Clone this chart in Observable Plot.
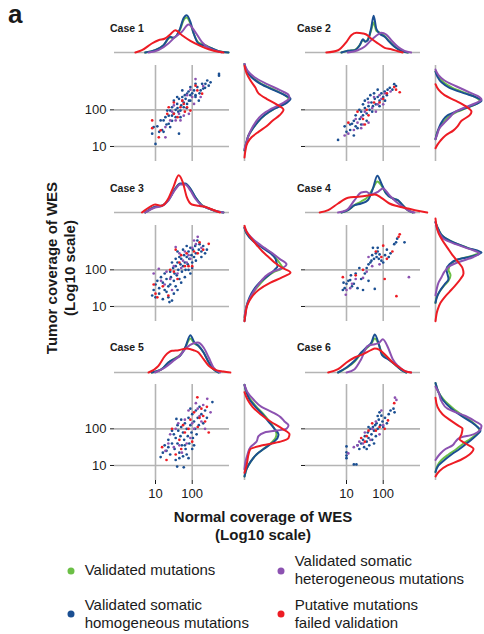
<!DOCTYPE html>
<html><head><meta charset="utf-8">
<script src="https://cdn.jsdelivr.net/npm/d3@7"></script>
<script src="https://cdn.jsdelivr.net/npm/@observablehq/plot@0.6"></script>
<style>
body{margin:0;background:#fff;}
#fig{position:relative;width:484px;height:634px;overflow:hidden;font-family:"Liberation Sans",Arial,Helvetica,sans-serif;color:#1a1a1a;background:#fff;}
#fig svg{overflow:visible;position:absolute;}
.lbl{position:absolute;white-space:nowrap;}
</style></head><body><div id="fig"></div>
<script>
// ---------- DATA (all coverage values are log10 of coverage) ----------
const caseLabels = ["Case 1","Case 2","Case 3","Case 4","Case 5","Case 6"];
const tickValues = [10, 100];
const seriesNames = [["Validated mutations"],["Validated somatic","heterogeneous mutations"],["Validated somatic","homogeneous mutations"],["Putative mutations","failed validation"]];
const seriesColors = ["#6bbf46","#8c52b1","#1b4f92","#ed1c24"]; // green, purple, blue, red

// scatter points [log10 normal, log10 tumor]
const case1Blue=[[1.0,1.07],[0.91,1.35],[0.95,1.53],[1.05,1.55],[1.18,1.45],[1.22,1.71],[1.27,1.8],[1.36,1.84],[1.4,1.98],[1.45,2.07],[1.5,2.25],[1.59,2.16],[1.64,2.3],[1.68,1.98],[1.73,2.35],[1.77,2.2],[1.82,2.3],[1.86,2.44],[1.91,2.25],[1.95,2.4],[2.05,2.53],[2.09,2.35],[2.14,2.62],[2.23,2.53],[2.3,2.58],[2.36,2.71],[2.41,2.8],[2.45,2.66],[2.5,2.75],[2.73,2.98],[2.73,2.93],[1.64,1.35],[1.55,1.8],[1.36,1.62],[1.68,1.8],[1.77,2.07],[1.86,2.16],[1.55,2.0],[1.45,1.84],[1.95,2.25],[2.09,2.4],[1.32,1.98],[1.14,1.71],[1.59,2.35],[1.73,2.53],[1.95,2.62],[2.09,2.71],[2.27,2.71],[2.18,2.25],[1.4,1.53],[1.22,1.4],[1.1,1.4],[1.5,1.9],[1.6,2.05],[1.7,2.12],[1.8,2.4],[1.9,2.5],[2.0,2.45],[1.3,1.6],[2.35,2.6],[2.2,2.45],[1.85,2.05],[1.62,1.95],[1.45,1.7]];
const case1Purple=[[1.27,1.25],[1.4,1.71],[1.55,1.71],[1.64,1.89],[1.77,1.84],[1.86,2.4],[2.0,2.35],[2.09,2.84],[2.23,2.35],[1.91,1.89],[1.5,2.12],[1.73,2.25],[2.05,2.16],[1.27,1.53],[1.68,1.71],[1.95,2.55],[2.3,2.65],[1.45,1.95]];
const case1Red=[[0.91,1.71],[0.91,1.5],[1.09,1.25],[1.14,1.44],[1.32,1.89],[1.5,1.89],[1.68,2.07],[1.77,2.16],[1.86,2.07],[1.95,1.98],[2.14,2.53],[2.09,2.66],[1.6,1.8],[1.36,2.07],[1.73,2.25],[2.27,2.44],[1.5,2.2],[1.8,1.95]];

const case2Blue=[[0.77,1.18],[0.95,1.55],[1.0,1.4],[1.1,1.45],[1.15,1.62],[1.2,1.7],[1.25,1.85],[1.3,1.5],[1.36,1.75],[1.4,1.95],[1.45,1.85],[1.5,2.05],[1.55,1.9],[1.6,2.1],[1.63,2.0],[1.68,2.2],[1.72,2.1],[1.77,2.3],[1.8,2.15],[1.85,2.35],[1.9,2.25],[1.95,2.45],[2.0,2.35],[2.04,2.5],[2.1,2.4],[2.18,2.6],[2.25,2.55],[2.3,2.7],[2.35,2.65],[1.5,2.25],[1.65,2.4],[1.4,1.6],[1.25,1.55],[1.55,1.7],[1.7,1.95],[1.9,2.1],[2.05,2.25],[1.58,2.3],[1.85,2.55],[1.35,2.0],[1.2,1.3],[1.1,1.6],[1.45,2.15],[1.75,2.45],[2.12,2.55]];
const case2Purple=[[0.95,1.3],[1.05,1.35],[1.2,1.45],[1.3,1.65],[1.4,1.8],[1.45,1.6],[1.5,1.95],[1.6,1.65],[1.7,2.05],[1.8,1.95],[1.85,2.15],[1.95,2.3],[2.05,2.45],[2.2,2.5],[1.75,2.35],[1.6,2.2],[1.25,1.75],[1.4,1.5],[1.9,2.4],[2.0,2.15]];
const case2Red=[[1.05,1.65],[1.3,1.95],[1.45,1.75],[1.55,2.0],[1.6,1.85],[1.75,2.2],[1.9,2.2],[2.0,2.3],[2.35,2.55],[2.45,2.48],[2.3,2.62],[1.5,1.6],[2.1,2.45]];

const case3Blue=[[0.91,1.3],[0.95,1.45],[1.0,1.6],[1.05,1.7],[1.1,1.5],[1.15,1.8],[1.2,1.65],[1.25,1.9],[1.3,1.75],[1.35,1.55],[1.4,1.95],[1.42,1.8],[1.45,1.16],[1.48,2.05],[1.5,1.7],[1.52,1.9],[1.55,2.1],[1.58,1.85],[1.6,2.2],[1.62,2.0],[1.65,1.75],[1.68,2.15],[1.7,2.3],[1.72,1.95],[1.75,2.1],[1.78,2.4],[1.8,2.2],[1.82,2.0],[1.85,2.35],[1.88,2.15],[1.9,2.5],[1.92,2.3],[1.95,2.6],[1.98,2.4],[2.0,2.2],[2.02,2.55],[2.05,2.35],[2.08,2.65],[2.1,2.45],[2.14,2.8],[2.18,2.55],[2.2,2.7],[2.25,2.5],[2.3,2.65],[2.35,2.45],[1.3,1.4],[1.4,1.6],[1.55,1.55],[1.6,1.45],[1.5,1.35],[1.35,1.25],[1.25,1.45],[1.7,1.65],[1.8,1.8],[1.9,2.0],[2.0,2.05],[1.65,2.35],[1.55,2.3],[1.45,2.2],[1.6,2.5],[1.75,2.55],[1.85,2.65],[2.1,2.25],[2.25,2.35],[1.95,1.9],[1.1,1.35],[1.2,1.2],[1.38,1.12],[2.4,2.55],[1.0,1.25]];
const case3Purple=[[1.09,2.03],[0.95,1.9],[1.15,1.7],[1.25,1.6],[1.3,1.95],[1.4,1.75],[1.5,2.1],[1.55,2.62],[1.6,1.9],[1.7,2.05],[1.75,2.25],[1.85,2.2],[1.9,2.4],[2.0,2.6],[2.1,2.7],[2.15,2.9],[2.25,2.6],[1.95,2.3],[1.65,2.45],[1.45,1.45],[1.8,2.5],[2.05,2.8]];
const case3Red=[[0.95,1.6],[1.0,1.35],[1.05,1.25],[1.2,1.55],[1.35,1.3],[1.5,1.95],[1.55,2.55],[1.65,2.2],[1.8,2.1],[1.9,2.1],[2.0,2.1],[1.7,2.4],[2.05,2.5],[2.2,2.75],[2.45,2.71],[2.3,2.55],[1.85,2.45],[1.6,1.75],[1.4,2.0],[2.15,2.45]];

const case4Blue=[[0.92,1.65],[0.95,1.5],[1.0,1.62],[1.05,1.7],[1.1,1.72],[1.15,1.55],[1.2,1.62],[1.25,1.9],[1.3,1.5],[1.35,2.05],[1.45,1.45],[1.5,1.9],[1.55,2.05],[1.6,2.15],[1.65,2.2],[1.7,2.4],[1.75,2.3],[1.77,1.48],[1.8,2.45],[1.82,2.35],[1.85,2.5],[1.88,2.3],[1.9,2.42],[1.95,2.25],[2.0,2.2],[2.05,2.4],[2.1,2.55],[2.2,2.45],[2.3,2.7],[2.35,2.75],[2.38,2.85],[2.58,2.75],[1.72,2.6],[1.6,1.7],[1.4,1.75],[1.85,2.6],[2.15,2.35],[1.68,2.25],[0.9,1.45],[1.12,1.85]];
const case4Purple=[[0.98,1.32],[1.0,1.45],[1.1,1.5],[1.25,1.75],[1.45,1.78],[1.55,1.95],[1.7,2.1],[1.9,2.15],[2.7,1.8],[1.6,2.35],[1.15,1.62]];
const case4Red=[[0.9,1.8],[1.25,1.85],[1.45,2.0],[1.8,2.5],[2.0,2.66],[2.04,1.75],[2.1,2.3],[2.25,2.5],[2.36,1.28],[2.45,2.97],[2.42,2.9],[1.95,2.35]];

const case5Blue=[[1.14,1.23],[1.2,1.35],[1.25,1.55],[1.3,1.4],[1.35,1.7],[1.4,1.3],[1.45,1.6],[1.5,1.85],[1.52,1.45],[1.55,1.75],[1.57,2.27],[1.59,0.97],[1.6,1.6],[1.62,1.95],[1.65,1.35],[1.68,1.8],[1.7,2.05],[1.72,1.55],[1.75,1.9],[1.77,0.95],[1.78,1.7],[1.8,2.15],[1.82,1.45],[1.85,2.0],[1.88,1.8],[1.9,2.3],[1.92,1.6],[1.95,2.1],[1.98,1.9],[2.0,2.4],[2.02,1.75],[2.05,2.2],[2.08,2.0],[2.1,2.5],[2.12,1.85],[2.15,2.3],[2.2,2.6],[2.25,2.4],[2.3,2.15],[2.35,2.5],[2.4,2.3],[2.55,2.73],[1.65,1.2],[1.75,1.25],[1.85,1.3],[1.55,1.15],[1.7,2.25],[1.95,2.55],[2.05,1.55],[1.45,1.95],[1.9,1.2],[2.0,1.45],[1.6,2.1],[2.18,2.1],[1.35,1.5],[1.8,1.55]];
const case5Purple=[[1.27,1.4],[1.35,1.6],[1.4,1.85],[1.5,1.5],[1.55,2.0],[1.62,2.15],[1.72,1.35],[1.8,2.25],[1.9,2.5],[1.95,1.75],[2.05,2.0],[2.1,2.7],[2.15,2.55],[2.25,2.2],[2.3,2.65],[2.41,2.82],[2.5,2.45],[2.35,2.0],[1.85,1.6],[1.65,1.55],[2.2,2.35],[2.0,2.15]];
const case5Red=[[1.18,1.5],[1.3,1.15],[1.45,2.0],[1.55,1.3],[1.65,1.7],[1.7,1.45],[1.8,1.9],[1.9,2.0],[2.0,1.65],[2.05,2.45],[2.14,2.86],[2.2,2.3],[2.25,2.55],[2.3,2.35],[2.4,2.6],[2.45,1.9],[2.15,2.05],[1.95,2.25],[2.35,2.2],[1.75,2.1]];

const case6Blue=[[1.0,1.52],[1.0,1.36],[1.0,1.27],[1.0,1.2],[1.2,1.03],[1.27,1.03],[1.35,1.45],[1.4,1.6],[1.45,1.7],[1.48,1.5],[1.5,1.8],[1.55,1.65],[1.58,1.9],[1.6,1.75],[1.62,1.55],[1.65,2.0],[1.68,1.85],[1.7,1.7],[1.72,2.05],[1.75,1.95],[1.78,2.1],[1.8,1.8],[1.82,2.15],[1.85,2.0],[1.88,2.25],[1.9,2.45],[1.92,2.1],[1.95,2.36],[1.98,2.2],[2.0,2.05],[2.05,2.3],[2.1,2.15],[2.15,2.4],[2.2,2.5],[2.31,2.45],[2.28,2.55],[1.55,1.45],[1.3,1.55],[1.75,1.6],[1.85,2.35],[1.6,2.05]];
const case6Purple=[[1.05,1.33],[1.2,1.5],[1.3,1.55],[1.45,1.6],[1.5,1.9],[1.65,1.7],[1.7,2.0],[1.8,2.2],[1.95,2.5],[2.0,2.1],[2.36,2.79],[2.32,2.85],[1.9,1.85],[1.35,1.65]];
const case6Red=[[1.4,1.75],[1.55,1.8],[1.6,1.95],[1.7,2.15],[1.8,1.95],[1.9,2.05],[2.04,2.0],[2.13,2.23],[2.3,2.7],[1.5,1.65]];

// marginal densities, top: [log10 normal coverage, density]
const c1TopGreen=[[0.72,0],[0.99,2.3],[1.22,7.3],[1.4,15],[1.49,14.7],[1.67,23],[1.76,32],[1.85,35],[1.95,29],[2.04,19],[2.17,10],[2.35,7.5],[2.54,4],[2.72,1.3],[2.99,0]];
const c1TopBlue=[[0.72,0],[0.99,2.3],[1.22,7.3],[1.4,15.7],[1.49,14.7],[1.67,24],[1.76,34],[1.85,37.3],[1.95,30.7],[2.04,19],[2.17,9],[2.35,6.7],[2.54,4],[2.72,1.3],[2.99,0]];
const c1TopPurple=[[0.81,0],[1.08,2.3],[1.35,9],[1.54,15.7],[1.72,20.7],[1.9,28],[2.08,20.7],[2.26,10.7],[2.45,4.7],[2.63,1.7],[2.81,0]];
const c1TopRed=[[0.45,0],[0.63,2.3],[0.9,9],[1.08,12.3],[1.26,14],[1.4,18],[1.54,22.3],[1.72,17.3],[1.95,11.7],[2.22,6.7],[2.45,3.3],[2.72,0.7],[2.85,0]];
const c2TopGreen=[[0.86,0],[1.04,1.7],[1.22,2.5],[1.36,7.3],[1.45,12.5],[1.51,11],[1.58,13],[1.67,22],[1.74,30],[1.81,22],[1.9,20],[2.04,16.5],[2.17,11],[2.31,6],[2.49,1.7],[2.67,0]];
const c2TopBlue=[[0.86,0],[1.04,1.7],[1.22,2.3],[1.36,7.3],[1.45,13.3],[1.51,10.7],[1.58,12.3],[1.67,24],[1.74,36.7],[1.81,24],[1.9,19],[2.04,15.7],[2.17,10.7],[2.31,5.7],[2.49,1.7],[2.67,0]];
const c2TopPurple=[[1.04,0],[1.31,2.3],[1.49,5.7],[1.67,12.3],[1.86,18],[1.95,19.7],[2.08,18],[2.22,12.3],[2.4,5.7],[2.58,1.7],[2.76,0]];
const c2TopRed=[[0.45,0],[0.77,2.3],[1.0,10.7],[1.13,17.3],[1.27,19.7],[1.45,19],[1.54,18],[1.67,14],[1.86,9],[2.04,4.7],[2.22,3.3],[2.4,1.3],[2.53,0]];
const c3TopGreen=[[0.72,0],[0.99,5.5],[1.17,6.7],[1.35,12.5],[1.54,24],[1.67,28.5],[1.81,28.5],[1.95,23.5],[2.08,15.5],[2.26,7.5],[2.45,4],[2.72,0.7],[2.85,0]];
const c3TopBlue=[[0.72,0],[0.99,5.7],[1.17,6.7],[1.35,12.3],[1.54,24],[1.67,29],[1.81,29],[1.95,24],[2.08,15.7],[2.26,7.3],[2.45,4],[2.72,0.7],[2.85,0]];
const c3TopPurple=[[0.72,0],[0.99,5],[1.17,6.5],[1.35,12],[1.54,23],[1.67,28],[1.81,28],[1.95,22],[2.08,14],[2.26,7],[2.45,4],[2.72,0.7],[2.85,0]];
const c3TopRed=[[0.63,0],[0.85,5.7],[0.99,8],[1.17,6.7],[1.35,14],[1.49,25.7],[1.63,37.3],[1.74,30.7],[1.85,15.7],[1.99,8],[2.17,6.7],[2.35,5.7],[2.54,3],[2.76,0]];
const c4TopGreen=[[0.86,0],[1.04,2.3],[1.22,7.3],[1.4,11],[1.58,15.7],[1.72,24],[1.84,31],[1.95,27],[2.08,19],[2.26,14],[2.4,12],[2.53,7.3],[2.67,2.3],[2.81,0]];
const c4TopBlue=[[0.86,0],[1.04,2.3],[1.22,7.3],[1.4,9],[1.58,12.3],[1.72,24],[1.84,36.7],[1.95,29],[2.08,19],[2.26,14],[2.4,12.3],[2.53,7.3],[2.67,2.3],[2.81,0]];
const c4TopPurple=[[0.77,0],[1.0,2.3],[1.22,12.3],[1.4,20],[1.54,20.7],[1.67,18],[1.86,20.7],[1.99,24],[2.17,17.3],[2.35,10.7],[2.53,5.7],[2.76,0.7],[2.85,0]];
const c4TopRed=[[0.27,0],[0.5,2.3],[0.77,9],[1.04,14.7],[1.31,15.7],[1.54,16.7],[1.77,18],[1.95,14.7],[2.17,9],[2.4,6.3],[2.67,4],[2.94,1.7],[3.2,0]];
const c5TopGreen=[[0.9,0],[1.17,3.3],[1.35,10],[1.54,14.5],[1.67,17.5],[1.81,25],[1.95,34],[2.06,29],[2.17,26.5],[2.31,20],[2.45,10.5],[2.58,3.5],[2.72,0]];
const c5TopBlue=[[0.9,0],[1.17,3.3],[1.35,10],[1.54,14],[1.67,16.7],[1.81,25],[1.95,37.3],[2.06,30],[2.17,26.7],[2.31,20],[2.45,10],[2.58,3.3],[2.72,0]];
const c5TopPurple=[[0.99,0],[1.26,5],[1.49,11.7],[1.67,17.3],[1.85,25],[2.04,29.3],[2.15,30],[2.31,25],[2.45,15],[2.58,5],[2.76,0]];
const c5TopRed=[[0.81,0],[1.08,6.7],[1.26,16.7],[1.45,21.7],[1.63,22.3],[1.85,24],[2.04,22.3],[2.17,20],[2.31,13.3],[2.45,6.7],[2.63,2.7],[2.85,1],[3.04,0]];
const c6TopGreen=[[0.77,0],[1.0,4.5],[1.22,11],[1.4,19],[1.54,24],[1.68,29],[1.77,34],[1.88,28],[1.97,19],[2.13,14],[2.31,8.5],[2.49,2.7],[2.63,0]];
const c6TopBlue=[[0.77,0],[1.0,5],[1.22,11.7],[1.4,20],[1.54,25],[1.68,30],[1.77,38],[1.88,28.3],[1.97,17.3],[2.13,13.3],[2.31,8.3],[2.49,2.7],[2.63,0]];
const c6TopPurple=[[1.0,0],[1.22,3.3],[1.4,13.3],[1.58,26.7],[1.77,28.3],[1.9,30],[1.99,33.3],[2.13,25],[2.26,13.3],[2.4,6.7],[2.58,1.7],[2.76,0]];
const c6TopRed=[[0.5,0],[0.77,3.3],[1.0,10],[1.22,15],[1.45,18.3],[1.68,22.7],[1.77,24],[1.9,22.7],[2.08,16.7],[2.26,10],[2.44,5],[2.62,1],[2.76,0]];

// marginal densities, right: [log10 tumor coverage, density]
const c1RightGreen=[[3.25,0],[3.07,2],[2.89,8],[2.71,17],[2.53,31],[2.39,41],[2.3,44],[2.19,41],[2.03,30],[1.85,20],[1.66,13],[1.48,8],[1.3,4],[1.12,2],[0.89,0]];
const c1RightBlue=[[3.25,0],[3.07,2],[2.89,7],[2.71,16],[2.53,30],[2.39,41],[2.3,46],[2.19,42],[2.03,30],[1.85,20],[1.66,13],[1.48,8],[1.3,4],[1.12,2],[0.89,0]];
const c1RightPurple=[[3.25,0],[3.07,3],[2.89,10],[2.71,22],[2.53,36],[2.41,44],[2.32,45],[2.21,40],[2.03,27],[1.85,17],[1.66,11],[1.48,7],[1.3,4],[1.12,2],[0.93,0]];
const c1RightRed=[[3.2,0],[3.0,2],[2.8,6],[2.6,11],[2.45,14],[2.3,22],[2.15,32],[2.0,39],[1.85,35],[1.7,28],[1.55,22],[1.4,14],[1.25,7],[1.1,3],[0.9,1],[0.7,0]];
const c2RightGreen=[[3.05,0],[2.9,3],[2.75,8],[2.6,17],[2.45,31],[2.35,40],[2.25,44],[2.15,40],[2.05,31],[1.95,22],[1.85,15],[1.7,9],[1.55,5],[1.4,2],[1.2,0]];
const c2RightBlue=[[3.05,0],[2.9,2],[2.75,6],[2.6,14],[2.45,29],[2.35,40],[2.25,46],[2.15,40],[2.05,30],[1.95,20],[1.85,12],[1.7,7],[1.55,4],[1.4,2],[1.2,0]];
const c2RightPurple=[[3.1,0],[2.95,3],[2.8,9],[2.65,20],[2.5,32],[2.38,42],[2.28,46],[2.18,40],[2.05,28],[1.95,20],[1.82,15],[1.65,9],[1.5,4],[1.35,2],[1.2,0]];
const c2RightRed=[[2.7,0],[2.55,3],[2.4,9],[2.25,20],[2.1,30],[1.95,36],[1.85,34],[1.7,26],[1.55,22],[1.44,18],[1.3,10],[1.16,5],[1.05,2],[0.95,0]];
const c3RightGreen=[[3.15,0],[3.0,2],[2.8,9],[2.6,19],[2.45,27],[2.3,32],[2.15,36],[2.05,38],[1.95,30],[1.8,22],[1.6,15],[1.4,9],[1.2,5],[1.0,2],[0.7,0]];
const c3RightBlue=[[3.15,0],[3.0,2],[2.8,8],[2.6,18],[2.45,26],[2.3,31],[2.2,32],[2.1,33],[2.0,30],[1.85,24],[1.65,15],[1.45,9],[1.25,5],[1.0,2],[0.8,1],[0.6,0]];
const c3RightPurple=[[3.15,0],[3.0,3],[2.8,10],[2.6,20],[2.45,28],[2.3,35],[2.15,42],[2.05,38],[1.95,28],[1.8,20],[1.6,14],[1.4,9],[1.2,5],[1.0,2],[0.7,0]];
const c3RightRed=[[3.2,0],[3.05,2],[2.85,7],[2.65,13],[2.5,18],[2.35,24],[2.2,30],[2.05,38],[1.93,46],[1.8,38],[1.65,26],[1.45,14],[1.25,7],[1.05,3],[0.8,1],[0.6,0]];
const c4RightGreen=[[3.3,0],[3.1,3],[2.9,8],[2.75,18],[2.6,32],[2.47,44],[2.38,36],[2.28,22],[2.15,15],[2.0,13],[1.85,15],[1.7,13],[1.55,8],[1.4,4],[1.25,1],[1.1,0]];
const c4RightBlue=[[3.3,0],[3.1,3],[2.9,8],[2.75,18],[2.6,32],[2.47,46],[2.38,38],[2.28,22],[2.15,14],[2.0,11],[1.88,12],[1.75,13],[1.6,9],[1.45,5],[1.3,2],[1.1,0]];
const c4RightPurple=[[3.3,0],[3.1,2],[2.95,5],[2.85,8],[2.7,20],[2.55,36],[2.45,44],[2.35,38],[2.22,24],[2.1,14],[1.95,9],[1.8,6],[1.65,3],[1.45,1],[1.3,0]];
const c4RightRed=[[3.4,0],[3.2,1],[3.0,3],[2.8,7],[2.6,12],[2.4,17],[2.2,23],[2.05,27],[1.9,28],[1.75,25],[1.55,19],[1.4,14],[1.25,9],[1.1,5],[0.9,2],[0.6,0]];
const c5RightGreen=[[3.2,0],[3.0,2],[2.8,6],[2.6,12],[2.4,19],[2.2,25],[2.0,30],[1.85,32],[1.75,31],[1.6,26],[1.45,19],[1.3,12],[1.1,6],[0.9,2],[0.7,0]];
const c5RightBlue=[[3.2,0],[3.0,2],[2.8,5],[2.6,11],[2.4,18],[2.2,24],[2.0,30],[1.85,34],[1.75,33],[1.6,27],[1.45,19],[1.3,12],[1.1,6],[0.9,2],[0.7,0]];
const c5RightPurple=[[3.2,0],[3.0,3],[2.8,9],[2.6,17],[2.45,28],[2.32,36],[2.2,40],[2.1,44],[2.0,42],[1.9,20],[1.8,14],[1.65,12],[1.5,6],[1.3,3],[1.1,1],[0.9,0]];
const c5RightRed=[[3.0,0],[2.8,3],[2.6,8],[2.4,16],[2.2,26],[2.0,38],[1.85,45],[1.75,44],[1.65,36],[1.55,18],[1.45,6],[1.3,4],[1.15,3],[1.0,2],[0.8,0]];
const c6RightGreen=[[3.25,0],[3.0,3],[2.8,8],[2.55,18],[2.35,28],[2.18,37],[2.05,42],[1.95,44],[1.85,41],[1.73,35],[1.6,28],[1.45,21],[1.3,13],[1.15,6],[1.0,2],[0.82,0]];
const c6RightBlue=[[3.25,0],[3.0,3],[2.8,7],[2.55,16],[2.35,26],[2.18,36],[2.05,42],[1.95,45],[1.85,42],[1.73,37],[1.6,31],[1.45,24],[1.3,16],[1.15,9],[1.0,3],[0.82,0]];
const c6RightPurple=[[3.15,0],[3.0,3],[2.75,6],[2.55,12],[2.35,30],[2.2,40],[2.08,46],[1.95,44],[1.85,38],[1.75,24],[1.65,20],[1.55,17],[1.45,10],[1.3,4],[1.15,0]];
const c6RightRed=[[2.85,0],[2.6,2],[2.4,7],[2.25,14],[2.1,22],[2.0,27],[1.85,26],[1.72,24],[1.6,30],[1.45,38],[1.3,34],[1.15,25],[1.0,12],[0.85,4],[0.7,0]];

// ---------- assemble ----------
const [GREEN, PURPLE, BLUE, RED] = seriesColors;
const cases = [
  {pts:[[case1Blue,BLUE],[case1Purple,PURPLE],[case1Red,RED]], top:[c1TopGreen,c1TopBlue,c1TopPurple,c1TopRed], right:[c1RightGreen,c1RightBlue,c1RightPurple,c1RightRed]},
  {pts:[[case2Blue,BLUE],[case2Purple,PURPLE],[case2Red,RED]], top:[c2TopGreen,c2TopBlue,c2TopPurple,c2TopRed], right:[c2RightGreen,c2RightBlue,c2RightPurple,c2RightRed]},
  {pts:[[case3Blue,BLUE],[case3Purple,PURPLE],[case3Red,RED]], top:[c3TopGreen,c3TopBlue,c3TopPurple,c3TopRed], right:[c3RightGreen,c3RightBlue,c3RightPurple,c3RightRed]},
  {pts:[[case4Blue,BLUE],[case4Purple,PURPLE],[case4Red,RED]], top:[c4TopGreen,c4TopBlue,c4TopPurple,c4TopRed], right:[c4RightGreen,c4RightBlue,c4RightPurple,c4RightRed]},
  {pts:[[case5Blue,BLUE],[case5Purple,PURPLE],[case5Red,RED]], top:[c5TopGreen,c5TopBlue,c5TopPurple,c5TopRed], right:[c5RightGreen,c5RightBlue,c5RightPurple,c5RightRed]},
  {pts:[[case6Blue,BLUE],[case6Purple,PURPLE],[case6Red,RED]], top:[c6TopGreen,c6TopBlue,c6TopPurple,c6TopRed], right:[c6RightGreen,c6RightBlue,c6RightPurple,c6RightRed]}
];
const lineColors = [GREEN, BLUE, PURPLE, RED];

// ---------- layout ----------
const fig = document.getElementById("fig");
const colX = [114, 305], rowY = [65, 224.7, 384.3], panelW = 115, panelH = 96;
const xDomain = [-0.117, 3.016], yDomain = [0.59, 3.21];
const logTicks = tickValues.map(Math.log10);
const fmt = d => String(Math.round(10 ** d));
const GRID = "#b4b4b4";
const baseStyle = {background:"transparent", overflow:"visible", maxWidth:"none", fontFamily:"'Liberation Sans', Arial, sans-serif", fontSize:"13px", color:"#1a1a1a"};

function put(el, left, top){ el.style.position="absolute"; el.style.left=left+"px"; el.style.top=top+"px"; fig.appendChild(el); }

cases.forEach((c, i) => {
  const col = i % 2, row = Math.floor(i / 2);
  const x0 = colX[col], y0 = rowY[row];
  const ml = col === 0 ? 40 : 10, mb = row === 2 ? 26 : 0;
  const scatter = Plot.plot({
    width: panelW + ml, height: panelH + mb,
    marginLeft: ml, marginRight: 0, marginTop: 0, marginBottom: mb,
    x: {domain: xDomain, ticks: logTicks, tickFormat: fmt, tickSize: 4, tickPadding: 4, axis: row === 2 ? "bottom" : null, label: null},
    y: {domain: yDomain, ticks: logTicks, tickFormat: col === 0 ? fmt : () => "", tickSize: 4, tickPadding: 4, label: null},
    style: baseStyle,
    marks: [
      Plot.ruleX(logTicks, {stroke: GRID, strokeWidth: 1.6}),
      Plot.ruleY(logTicks, {stroke: GRID, strokeWidth: 1.6}),
      ...c.pts.map(([arr, color]) => Plot.dot(arr, {x: d => d[0], y: d => d[1], r: 1.35, fill: color}))
    ]
  });
  put(scatter, x0 - ml, y0);

  const top = Plot.plot({
    width: panelW, height: 44, margin: 0, marginTop: 4,
    x: {domain: xDomain, axis: null}, y: {domain: [0, 40], axis: null},
    style: baseStyle,
    marks: [
      Plot.ruleY([0], {stroke: GRID, strokeWidth: 1.6}),
      ...c.top.map((arr, k) => Plot.line(arr, {x: d => d[0], y: d => d[1], curve: "monotone-x", stroke: lineColors[k], strokeWidth: 2}))
    ]
  });
  put(top, x0, y0 - 12.7 - 44);

  const right = Plot.plot({
    width: 48, height: panelH, margin: 0,
    x: {domain: [0, 48], axis: null}, y: {domain: yDomain, axis: null},
    style: baseStyle,
    marks: [
      Plot.ruleX([0], {stroke: GRID, strokeWidth: 1.6}),
      ...c.right.map((arr, k) => Plot.line([...arr].sort((a, b) => a[0] - b[0]), {x: d => d[1], y: d => d[0], curve: "monotone-y", stroke: lineColors[k], strokeWidth: 2}))
    ]
  });
  put(right, x0 + 129.5, y0);

  const lab = document.createElement("div");
  lab.className = "lbl";
  lab.textContent = caseLabels[i];
  lab.style.cssText += "font-weight:bold;font-size:10.5px;line-height:12px;";
  put(lab, col === 0 ? 110 : 297, y0 - 43);
});

// panel letter
const letter = document.createElement("div");
letter.className = "lbl"; letter.textContent = "a";
letter.style.cssText += "font-weight:bold;font-size:26px;line-height:26px;";
put(letter, 8, 1);

// axis titles
const yTitle = document.createElement("div");
yTitle.className = "lbl";
yTitle.innerHTML = "Tumor coverage of WES<br>(Log10 scale)";
yTitle.style.cssText += "font-weight:bold;font-size:15px;line-height:18px;text-align:center;transform:translate(-50%,-50%) rotate(-90deg);";
put(yTitle, 61, 268);

const xTitle = document.createElement("div");
xTitle.className = "lbl";
xTitle.innerHTML = "Normal coverage of WES<br>(Log10 scale)";
xTitle.style.cssText += "font-weight:bold;font-size:15px;line-height:18px;text-align:center;transform:translate(-50%,-50%);";
put(xTitle, 263, 526);

// legend
const legendPos = [[70.7, 570.7], [280.7, 570.7], [70.7, 614], [280.7, 614]];
seriesNames.forEach((lines, k) => {
  const [cx, cy] = legendPos[k];
  const dot = document.createElement("div");
  dot.style.cssText = `width:7px;height:7px;border-radius:50%;background:${seriesColors[k]};transform:translate(-50%,-50%);`;
  put(dot, cx, cy);
  const t = document.createElement("div");
  t.className = "lbl";
  t.innerHTML = lines.join("<br>");
  t.style.cssText += "font-size:15px;line-height:18px;transform:translateY(-50%);";
  put(t, cx + 14, cy - 0.5);
});
</script></body></html>
